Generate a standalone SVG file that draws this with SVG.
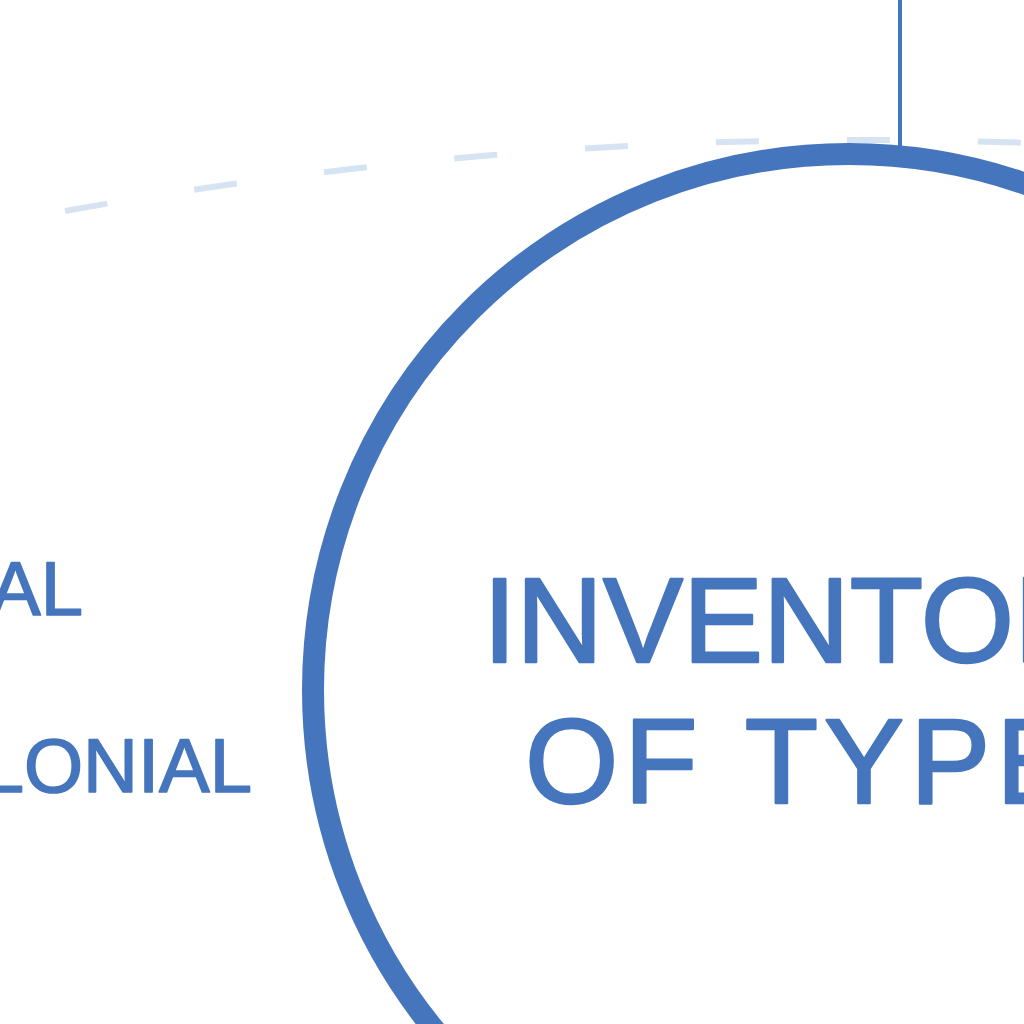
<svg xmlns="http://www.w3.org/2000/svg" width="1024" height="1024" viewBox="0 0 1024 1024">
  <style>
    .lbl { font-family: "Liberation Sans", Arial, sans-serif; fill: #4575bc; stroke: #4575bc; stroke-linejoin: round; stroke-linecap: round; }
    .big { font-size: 120px; stroke-width: 2.5; }
    .small { font-size: 76px; stroke-width: 1.6; }
    .ring { fill: none; stroke: #4575bc; stroke-width: 22; }
    .link { fill: none; stroke: #4575bc; stroke-width: 4; }
    .orbit { fill: none; stroke: #d5e3f2; stroke-width: 6; stroke-dasharray: 43 88; }
  </style>
  <rect width="1024" height="1024" fill="#ffffff"/>
  <g id="connectors">
    <path class="orbit" d="M 65 211 A 4527 4527 0 0 1 1030 143"/>
    <line class="link" x1="900" y1="0" x2="900" y2="150"/>
  </g>
  <g id="node-inventory">
    <circle class="ring" cx="849" cy="690" r="536"/>
    <text class="lbl big" x="483" y="662">INVENTORY</text>
    <text class="lbl big" x="525" y="803" letter-spacing="6" word-spacing="4">OF TYPES</text>
  </g>
  <g id="node-al">
    <text class="lbl small" x="83" y="615" text-anchor="end">AL</text>
  </g>
  <g id="node-lonial">
    <text class="lbl small" x="252" y="792" text-anchor="end">LONIAL</text>
  </g>
</svg>
